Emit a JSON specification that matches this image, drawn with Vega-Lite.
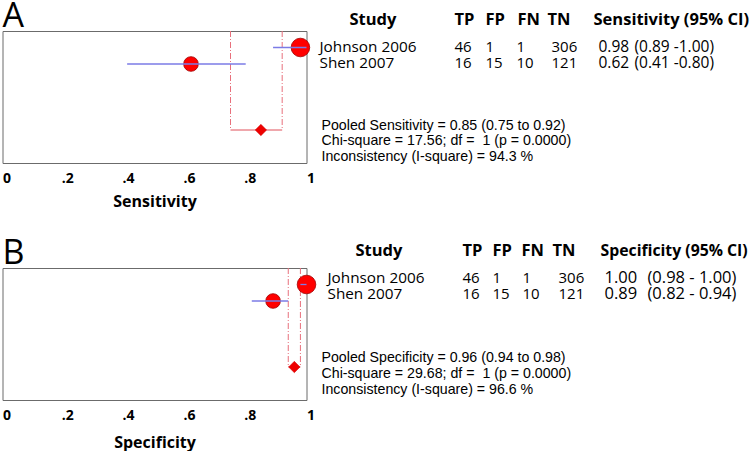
{
  "$schema": "https://vega.github.io/schema/vega-lite/v6.json",
  "padding": {"left": 1.5, "top": 0, "right": 0, "bottom": 0},
  "background": "white",
  "config": {
    "view": {"stroke": "#6b6b6b", "strokeWidth": 1},
    "title": {"font": "Open Sans", "fontSize": 34, "fontWeight": "normal", "anchor": "start", "frame": "group", "color": "black", "offset": -22},
    "axisX": {
      "format": ".1~f",
      "labelExpr": "replace(datum.label, '0.', '.')",
      "domain": false, "ticks": false, "grid": false,
      "labelFlush": false,
      "labelFont": "Open Sans", "labelFontWeight": "bold", "labelFontSize": 14, "labelColor": "black",
      "labelPadding": 8, "labelOffset": 4,
      "titleFont": "Open Sans", "titleFontSize": 16, "titleFontWeight": "bold", "titleColor": "black",
      "titlePadding": 8
    }
  },
  "datasets": {
    "sens": [
      {"study": "Johnson 2006", "TP": 46, "FP": 1, "FN": 1, "TN": 306, "N": 354, "est": 0.98, "lo": 0.89, "hi": 1.0, "ci": "(0.89 -1.00)"},
      {"study": "Shen 2007", "TP": 16, "FP": 15, "FN": 10, "TN": 121, "N": 162, "est": 0.62, "lo": 0.41, "hi": 0.8, "ci": "(0.41 -0.80)"}
    ],
    "sensPool": [{"row": "Pooled", "est": 0.85, "lo": 0.75, "hi": 0.92}],
    "sensStats": [
      {"row": "Pooled", "text": "Pooled Sensitivity = 0.85 (0.75 to 0.92)"},
      {"row": "Chi", "text": "Chi-square = 17.56; df = \u00a01 (p = 0.0000)"},
      {"row": "Incons", "text": "Inconsistency (I-square) = 94.3 %"}
    ],
    "spec": [
      {"study": "Johnson 2006", "TP": 46, "FP": 1, "FN": 1, "TN": 306, "N": 354, "est": 1.0, "lo": 0.98, "hi": 1.0, "ci": "(0.98 - 1.00)"},
      {"study": "Shen 2007", "TP": 16, "FP": 15, "FN": 10, "TN": 121, "N": 162, "est": 0.89, "lo": 0.82, "hi": 0.94, "ci": "(0.82 - 0.94)"}
    ],
    "specPool": [{"row": "Pooled", "est": 0.96, "lo": 0.94, "hi": 0.98}],
    "specStats": [
      {"row": "Pooled", "text": "Pooled Specificity = 0.96 (0.94 to 0.98)"},
      {"row": "Chi", "text": "Chi-square = 29.68; df = \u00a01 (p = 0.0000)"},
      {"row": "Incons", "text": "Inconsistency (I-square) = 96.6 %"}
    ]
  },
  "vconcat": [
    {
      "title": {"text": "A"},
      "hconcat": [
        {
          "width": 304, "height": 132,
          "encoding": {
            "x": {"type": "quantitative", "scale": {"domain": [0, 1], "nice": false, "zero": false}, "axis": {"title": "Sensitivity", "values": [0, 0.2, 0.4, 0.6, 0.8, 1]}},
            "y": {"type": "nominal", "axis": null, "scale": {"type": "point", "padding": 0, "domain": ["top", "Johnson 2006", "Shen 2007", "g1", "g2", "g3", "Pooled", "g4", "bottom"]}}
          },
          "layer": [
            {"data": {"name": "sensPool"}, "mark": {"type": "rule", "color": "#e8707c", "strokeDash": [6, 2, 1, 2], "strokeWidth": 1},
             "encoding": {"x": {"field": "lo", "type": "quantitative"}, "y": {"datum": "top"}, "y2": {"datum": "Pooled"}}},
            {"data": {"name": "sensPool"}, "mark": {"type": "rule", "color": "#e8707c", "strokeDash": [6, 2, 1, 2], "strokeWidth": 1},
             "encoding": {"x": {"field": "hi", "type": "quantitative"}, "y": {"datum": "top"}, "y2": {"datum": "Pooled"}}},
            {"data": {"name": "sensPool"}, "mark": {"type": "rule", "color": "#e0505a", "strokeWidth": 1},
             "encoding": {"x": {"field": "lo", "type": "quantitative"}, "x2": {"field": "hi"}, "y": {"field": "row"}}},
            {"data": {"name": "sensPool"}, "mark": {"type": "point", "shape": "diamond", "filled": true, "fill": "#ee0000", "stroke": "#cc0000", "strokeWidth": 0.5, "opacity": 1, "size": 130},
             "encoding": {"x": {"field": "est", "type": "quantitative"}, "y": {"field": "row"}}},
            {"data": {"name": "sens"}, "mark": {"type": "point", "shape": "circle", "filled": true, "fill": "#ff0000", "stroke": "#a00000", "strokeWidth": 0.8, "opacity": 1},
             "encoding": {"x": {"field": "est", "type": "quantitative"}, "y": {"field": "study"},
               "size": {"field": "N", "type": "quantitative", "scale": {"domain": [162, 354], "range": [215, 346]}, "legend": null}}},
            {"data": {"name": "sens"}, "mark": {"type": "rule", "color": "#7b7be6", "strokeWidth": 1.3},
             "encoding": {"x": {"field": "lo", "type": "quantitative"}, "x2": {"field": "hi"}, "y": {"field": "study"}}}
          ]
        },
        {
          "width": 440, "height": 126,
          "view": {"stroke": null},
          "data": {"name": "sens"},
          "encoding": {
            "y": {"type": "nominal", "axis": null, "scale": {"type": "point", "padding": 0, "range": [0, 126], "domain": ["hdr", "Johnson 2006", "Shen 2007", "g1", "g2", "g3", "Pooled", "Chi", "Incons"]}}
          },
          "layer": [
            {"data": {"values": [{"label": "Study"}]}, "mark": {"type": "text", "align": "left", "baseline": "middle", "font": "Open Sans", "fontWeight": "bold", "fontSize": 16.5, "dy": -11},
             "encoding": {"x": {"datum": 3.9, "type": "quantitative", "scale": {"domain": [0, 44], "nice": false, "zero": false}, "axis": null}, "y": {"datum": "hdr"}, "text": {"field": "label"}}},
            {"data": {"values": [{"label": "TP"}]}, "mark": {"type": "text", "align": "left", "baseline": "middle", "font": "Open Sans", "fontWeight": "bold", "fontSize": 16.5, "dy": -11},
             "encoding": {"x": {"datum": 14.4, "type": "quantitative"}, "y": {"datum": "hdr"}, "text": {"field": "label"}}},
            {"data": {"values": [{"label": "FP"}]}, "mark": {"type": "text", "align": "left", "baseline": "middle", "font": "Open Sans", "fontWeight": "bold", "fontSize": 16.5, "dy": -11},
             "encoding": {"x": {"datum": 17.5, "type": "quantitative"}, "y": {"datum": "hdr"}, "text": {"field": "label"}}},
            {"data": {"values": [{"label": "FN"}]}, "mark": {"type": "text", "align": "left", "baseline": "middle", "font": "Open Sans", "fontWeight": "bold", "fontSize": 16.5, "dy": -11},
             "encoding": {"x": {"datum": 20.7, "type": "quantitative"}, "y": {"datum": "hdr"}, "text": {"field": "label"}}},
            {"data": {"values": [{"label": "TN"}]}, "mark": {"type": "text", "align": "left", "baseline": "middle", "font": "Open Sans", "fontWeight": "bold", "fontSize": 16.5, "dy": -11},
             "encoding": {"x": {"datum": 23.7, "type": "quantitative"}, "y": {"datum": "hdr"}, "text": {"field": "label"}}},
            {"data": {"values": [{"label": "Sensitivity (95% CI)"}]}, "mark": {"type": "text", "align": "left", "baseline": "middle", "font": "Open Sans", "fontWeight": "bold", "fontSize": 16.5, "dy": -11},
             "encoding": {"x": {"datum": 28.3, "type": "quantitative"}, "y": {"datum": "hdr"}, "text": {"field": "label"}}},
            {"mark": {"type": "text", "align": "left", "baseline": "middle", "font": "Open Sans", "fontSize": 15.3},
             "encoding": {"x": {"datum": 0.9, "type": "quantitative"}, "y": {"field": "study"}, "text": {"field": "study"}}},
            {"mark": {"type": "text", "align": "left", "baseline": "middle", "font": "Open Sans", "fontSize": 15},
             "encoding": {"x": {"datum": 14.4, "type": "quantitative"}, "y": {"field": "study"}, "text": {"field": "TP"}}},
            {"mark": {"type": "text", "align": "left", "baseline": "middle", "font": "Open Sans", "fontSize": 15},
             "encoding": {"x": {"datum": 17.5, "type": "quantitative"}, "y": {"field": "study"}, "text": {"field": "FP"}}},
            {"mark": {"type": "text", "align": "left", "baseline": "middle", "font": "Open Sans", "fontSize": 15},
             "encoding": {"x": {"datum": 20.6, "type": "quantitative"}, "y": {"field": "study"}, "text": {"field": "FN"}}},
            {"mark": {"type": "text", "align": "left", "baseline": "middle", "font": "Open Sans", "fontSize": 15},
             "encoding": {"x": {"datum": 24.1, "type": "quantitative"}, "y": {"field": "study"}, "text": {"field": "TN"}}},
            {"mark": {"type": "text", "align": "left", "baseline": "middle", "font": "Open Sans", "fontSize": 15.5},
             "encoding": {"x": {"datum": 28.8, "type": "quantitative"}, "y": {"field": "study"}, "text": {"field": "est", "format": ".2f"}}},
            {"mark": {"type": "text", "align": "left", "baseline": "middle", "font": "Open Sans", "fontSize": 15.5},
             "encoding": {"x": {"datum": 32.4, "type": "quantitative"}, "y": {"field": "study"}, "text": {"field": "ci"}}},
            {"data": {"name": "sensStats"}, "mark": {"type": "text", "align": "left", "baseline": "middle", "font": "Liberation Sans", "fontSize": 14.2},
             "encoding": {"x": {"datum": 1.1, "type": "quantitative"}, "y": {"field": "row"}, "text": {"field": "text"}}}
          ]
        }
      ],
      "spacing": 4,
      "bounds": "flush"
    },
    {
      "title": {"text": "B", "offset": -28},
      "hconcat": [
        {
          "width": 304, "height": 132,
          "encoding": {
            "x": {"type": "quantitative", "scale": {"domain": [0, 1], "nice": false, "zero": false}, "axis": {"title": "Specificity", "titlePadding": 12, "values": [0, 0.2, 0.4, 0.6, 0.8, 1]}},
            "y": {"type": "nominal", "axis": null, "scale": {"type": "point", "padding": 0, "domain": ["top", "Johnson 2006", "Shen 2007", "g1", "g2", "g3", "Pooled", "g4", "bottom"]}}
          },
          "layer": [
            {"data": {"name": "specPool"}, "mark": {"type": "rule", "color": "#e8707c", "strokeDash": [6, 2, 1, 2], "strokeWidth": 1},
             "encoding": {"x": {"field": "lo", "type": "quantitative"}, "y": {"datum": "top"}, "y2": {"datum": "Pooled"}}},
            {"data": {"name": "specPool"}, "mark": {"type": "rule", "color": "#e8707c", "strokeDash": [6, 2, 1, 2], "strokeWidth": 1},
             "encoding": {"x": {"field": "hi", "type": "quantitative"}, "y": {"datum": "top"}, "y2": {"datum": "Pooled"}}},
            {"data": {"name": "specPool"}, "mark": {"type": "rule", "color": "#e0505a", "strokeWidth": 1},
             "encoding": {"x": {"field": "lo", "type": "quantitative"}, "x2": {"field": "hi"}, "y": {"field": "row"}}},
            {"data": {"name": "specPool"}, "mark": {"type": "point", "shape": "diamond", "filled": true, "fill": "#ee0000", "stroke": "#cc0000", "strokeWidth": 0.5, "opacity": 1, "size": 130},
             "encoding": {"x": {"field": "est", "type": "quantitative"}, "y": {"field": "row"}}},
            {"data": {"name": "spec"}, "mark": {"type": "point", "shape": "circle", "filled": true, "fill": "#ff0000", "stroke": "#a00000", "strokeWidth": 0.8, "opacity": 1},
             "encoding": {"x": {"field": "est", "type": "quantitative"}, "y": {"field": "study"},
               "size": {"field": "N", "type": "quantitative", "scale": {"domain": [162, 354], "range": [200, 346]}, "legend": null}}},
            {"data": {"name": "spec"}, "mark": {"type": "rule", "color": "#7b7be6", "strokeWidth": 1.3},
             "encoding": {"x": {"field": "lo", "type": "quantitative"}, "x2": {"field": "hi"}, "y": {"field": "study"}}}
          ]
        },
        {
          "width": 440, "height": 126,
          "view": {"stroke": null},
          "data": {"name": "spec"},
          "encoding": {
            "y": {"type": "nominal", "axis": null, "scale": {"type": "point", "padding": 0, "range": [-6, 122], "domain": ["hdr", "Johnson 2006", "Shen 2007", "g1", "g2", "g3", "Pooled", "Chi", "Incons"]}}
          },
          "layer": [
            {"data": {"values": [{"label": "Study"}]}, "mark": {"type": "text", "align": "left", "baseline": "middle", "font": "Open Sans", "fontWeight": "bold", "fontSize": 16.5, "dy": -11},
             "encoding": {"x": {"datum": 4.5, "type": "quantitative", "scale": {"domain": [0, 44], "nice": false, "zero": false}, "axis": null}, "y": {"datum": "hdr"}, "text": {"field": "label"}}},
            {"data": {"values": [{"label": "TP"}]}, "mark": {"type": "text", "align": "left", "baseline": "middle", "font": "Open Sans", "fontWeight": "bold", "fontSize": 16.5, "dy": -11},
             "encoding": {"x": {"datum": 15.2, "type": "quantitative"}, "y": {"datum": "hdr"}, "text": {"field": "label"}}},
            {"data": {"values": [{"label": "FP"}]}, "mark": {"type": "text", "align": "left", "baseline": "middle", "font": "Open Sans", "fontWeight": "bold", "fontSize": 16.5, "dy": -11},
             "encoding": {"x": {"datum": 18.2, "type": "quantitative"}, "y": {"datum": "hdr"}, "text": {"field": "label"}}},
            {"data": {"values": [{"label": "FN"}]}, "mark": {"type": "text", "align": "left", "baseline": "middle", "font": "Open Sans", "fontWeight": "bold", "fontSize": 16.5, "dy": -11},
             "encoding": {"x": {"datum": 21.1, "type": "quantitative"}, "y": {"datum": "hdr"}, "text": {"field": "label"}}},
            {"data": {"values": [{"label": "TN"}]}, "mark": {"type": "text", "align": "left", "baseline": "middle", "font": "Open Sans", "fontWeight": "bold", "fontSize": 16.5, "dy": -11},
             "encoding": {"x": {"datum": 24.2, "type": "quantitative"}, "y": {"datum": "hdr"}, "text": {"field": "label"}}},
            {"data": {"values": [{"label": "Specificity (95% CI)"}]}, "mark": {"type": "text", "align": "left", "baseline": "middle", "font": "Open Sans", "fontWeight": "bold", "fontSize": 15.8, "dy": -11},
             "encoding": {"x": {"datum": 29.0, "type": "quantitative"}, "y": {"datum": "hdr"}, "text": {"field": "label"}}},
            {"mark": {"type": "text", "align": "left", "baseline": "middle", "font": "Open Sans", "fontSize": 15.3},
             "encoding": {"x": {"datum": 1.7, "type": "quantitative"}, "y": {"field": "study"}, "text": {"field": "study"}}},
            {"mark": {"type": "text", "align": "left", "baseline": "middle", "font": "Open Sans", "fontSize": 15},
             "encoding": {"x": {"datum": 15.2, "type": "quantitative"}, "y": {"field": "study"}, "text": {"field": "TP"}}},
            {"mark": {"type": "text", "align": "left", "baseline": "middle", "font": "Open Sans", "fontSize": 15},
             "encoding": {"x": {"datum": 18.2, "type": "quantitative"}, "y": {"field": "study"}, "text": {"field": "FP"}}},
            {"mark": {"type": "text", "align": "left", "baseline": "middle", "font": "Open Sans", "fontSize": 15},
             "encoding": {"x": {"datum": 21.2, "type": "quantitative"}, "y": {"field": "study"}, "text": {"field": "FN"}}},
            {"mark": {"type": "text", "align": "left", "baseline": "middle", "font": "Open Sans", "fontSize": 15},
             "encoding": {"x": {"datum": 24.8, "type": "quantitative"}, "y": {"field": "study"}, "text": {"field": "TN"}}},
            {"mark": {"type": "text", "align": "left", "baseline": "middle", "font": "Open Sans", "fontSize": 16.5},
             "encoding": {"x": {"datum": 29.4, "type": "quantitative"}, "y": {"field": "study"}, "text": {"field": "est", "format": ".2f"}}},
            {"mark": {"type": "text", "align": "left", "baseline": "middle", "font": "Open Sans", "fontSize": 16.5},
             "encoding": {"x": {"datum": 33.7, "type": "quantitative"}, "y": {"field": "study"}, "text": {"field": "ci"}}},
            {"data": {"name": "specStats"}, "mark": {"type": "text", "align": "left", "baseline": "middle", "font": "Liberation Sans", "fontSize": 14.2},
             "encoding": {"x": {"datum": 1.1, "type": "quantitative"}, "y": {"field": "row"}, "text": {"field": "text"}}}
          ]
        }
      ],
      "spacing": 4,
      "bounds": "flush"
    }
  ],
  "spacing": 237,
  "bounds": "flush"
}
